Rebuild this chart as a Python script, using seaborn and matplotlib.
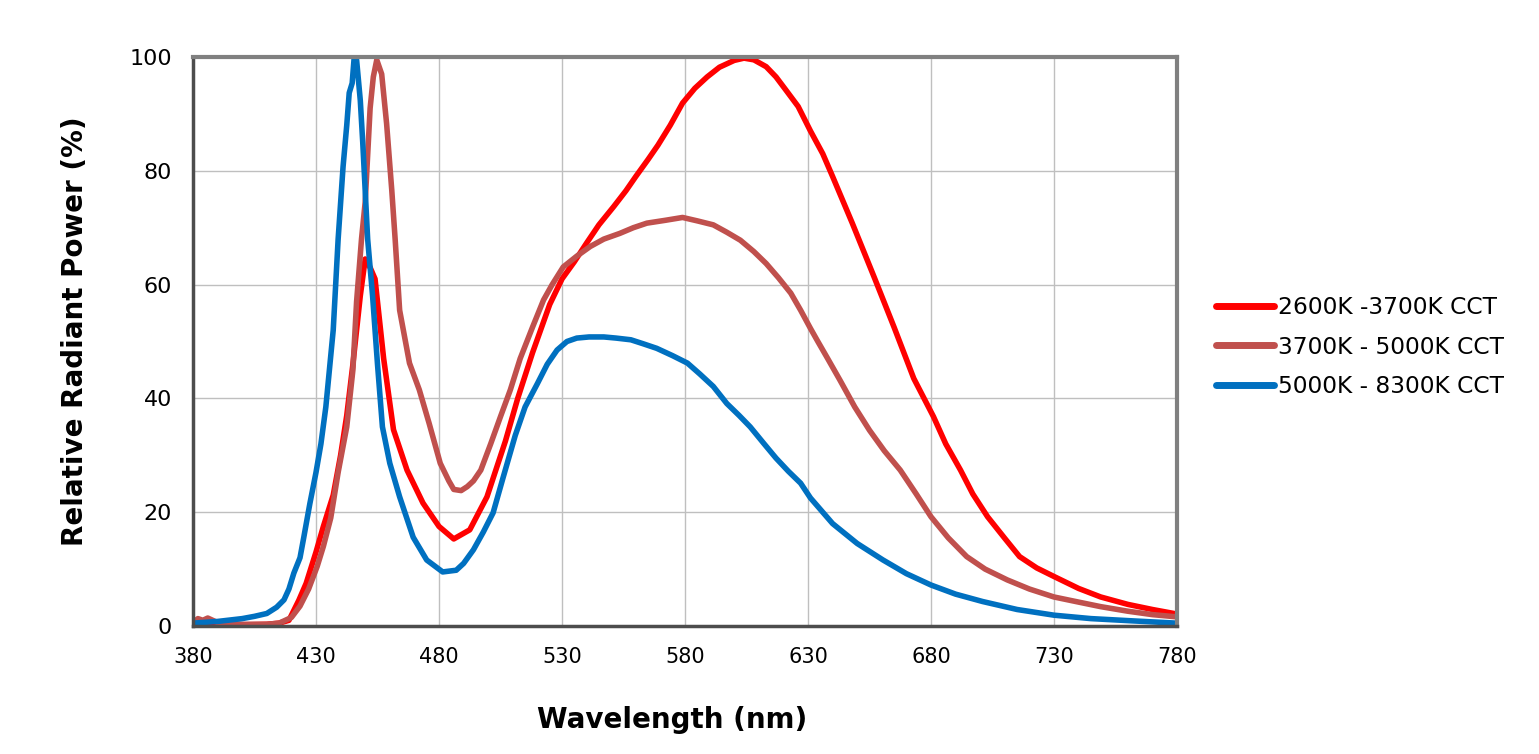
import numpy as np
import pandas as pd
import matplotlib
matplotlib.use("Agg")
import matplotlib.pyplot as plt
import seaborn as sns

# spectra (wavelength in nm, relative power in %)
red_wl = [380, 390, 400, 410, 415, 419, 423, 426, 430, 433, 437, 440, 442.5, 445, 446.5, 448, 450, 452,
          454, 457.5, 461.5, 467, 473.5, 480, 486, 492.5, 499.5, 507, 512, 518, 525, 530, 535, 540, 545,
          551, 556, 560, 565, 569, 574, 579, 584, 589, 594, 600, 604, 608, 613, 617, 621, 626, 631, 636,
          640, 648, 657, 665, 673, 681, 686, 692, 697, 703, 710, 716, 723, 730, 740, 749, 760, 770, 780]
red_val = [0.3, 0.2, 0.2, 0.3, 0.5, 1, 4.5, 7.5, 13, 17.5, 23, 30, 37, 46, 52, 58, 64.5, 63,
           61, 47, 34.5, 27.4, 21.6, 17.5, 15.3, 16.9, 22.7, 32.5, 40, 48, 56.5, 61, 64, 67.3, 70.5,
           73.7, 76.5, 79, 82, 84.5, 88, 91.9, 94.5, 96.5, 98.2, 99.4, 99.8, 99.5, 98.3, 96.5, 94.2, 91.3, 87, 83,
           79, 70.8, 61.2, 52.5, 43.5, 36.8, 32, 27.4, 23.2, 19.2, 15.4, 12.2, 10.2, 8.7, 6.6, 5.1, 3.8, 2.9, 2.1]

brown_wl = [380, 382, 384, 386, 390, 400, 410, 415, 420, 423.5, 427, 430.5, 433, 436, 439, 442.5, 445,
            446.5, 448.5, 450, 452, 453.3, 454.7, 456.7, 458.7, 460.8, 462.2, 464, 468, 472, 476, 480.5,
            484, 486, 489, 491.5, 494, 497, 501, 505, 509, 513, 518, 522.5, 526, 530.5, 536, 541.5, 547,
            553.5, 559, 564.5, 572, 579, 585, 591.5, 597, 602.5, 608, 613, 618, 623, 627, 631, 634, 638,
            643, 649, 655, 661, 667.5, 674, 680, 687, 694.5, 702, 711, 720, 730, 740, 749, 760, 770, 780]
brown_val = [0.6, 1.3, 1.0, 1.4, 0.6, 0.3, 0.3, 0.5, 1.5, 3.5, 6.5, 10.5, 14, 19, 27, 35, 45,
             57, 68, 74.5, 91, 96.5, 99.5, 97, 88.3, 76.6, 67.8, 55.5, 46.2, 41.5, 35.6, 28.6,
             25.5, 24, 23.8, 24.5, 25.5, 27.4, 32, 36.8, 41.5, 47, 52.5, 57.3, 60, 63.1, 65, 66.7, 68,
             69, 70, 70.8, 71.3, 71.8, 71.2, 70.5, 69.2, 67.8, 65.8, 63.7, 61.2, 58.5, 55.5, 52.3, 50, 47,
             43.2, 38.5, 34.4, 30.8, 27.4, 23.2, 19.2, 15.5, 12.2, 10, 8.1, 6.5, 5.1, 4.2, 3.4, 2.6, 2, 1.6]

blue_wl = [380, 390, 400, 405, 410, 414, 417, 419, 421, 423.5, 425, 427.5, 430, 432, 434, 437, 439, 441,
           442.5, 443.5, 444.7, 445.5, 446.5, 448, 449, 451, 453, 455, 457, 460, 464, 469.5, 475, 481.5,
           487, 490, 494, 498, 502, 506, 511, 515, 520, 524, 528, 532, 536, 541, 547, 552, 558, 563,
           568.5, 575, 581, 586, 591.5, 597, 602, 606.5, 612, 617, 622, 627, 631, 640, 650, 660.5, 670,
           680, 690, 701, 715, 730, 745, 762, 780]
blue_val = [0.5, 0.8, 1.3, 1.7, 2.2, 3.3, 4.6, 6.5, 9.3, 12, 15.5, 21.5, 27, 32, 38.5, 52, 68, 80.7,
            88, 93.7, 95.4, 99.8, 99.5, 92.4, 85, 68, 58, 46, 35, 28.6, 22.7, 15.6, 11.6, 9.5,
            9.8, 11, 13.4, 16.5, 19.9, 26, 33.5, 38.5, 42.6, 46, 48.5, 50, 50.6, 50.8, 50.8, 50.6, 50.3, 49.6,
            48.8, 47.5, 46.2, 44.3, 42.1, 39.1, 37, 35, 32.1, 29.5, 27.2, 25.1, 22.5, 18, 14.5, 11.6, 9.2,
            7.2, 5.6, 4.3, 2.9, 1.9, 1.3, 0.9, 0.5]

labels = ["2600K -3700K CCT", "3700K - 5000K CCT", "5000K - 8300K CCT"]
colors = ["#FF0000", "#C0504D", "#0070C0"]
x_ticks = [380, 430, 480, 530, 580, 630, 680, 730, 780]
y_ticks = [0, 20, 40, 60, 80, 100]

sns.set_style("white")
plt.rcParams["font.family"] = ["DejaVu Sans"]
plt.rcParams["text.color"] = "black"
plt.rcParams["axes.labelcolor"] = "black"

fig = plt.figure(figsize=(15.39, 7.54), dpi=100)
ax = fig.add_axes([193 / 1539, 1 - 626 / 754, 984 / 1539, 569 / 754])

series = [(red_wl, red_val), (brown_wl, brown_val), (blue_wl, blue_val)]
for (wl, val), lab, col in zip(series, labels, colors):
    sns.lineplot(x=wl, y=val, ax=ax, color=col, linewidth=4, label=lab,
                 solid_capstyle="round", solid_joinstyle="round", zorder=3)

ax.set_xlim(380, 780)
ax.set_ylim(0, 100)
ax.set_xticks(x_ticks)
ax.set_yticks(y_ticks)
ax.grid(True, color="#BFBFBF", linewidth=1.0, zorder=0)
ax.set_axisbelow(True)
ax.tick_params(axis="both", direction="out", length=6, width=1.2, color="#333333",
               labelcolor="black")
ax.tick_params(axis="x", pad=9, labelsize=15)
ax.tick_params(axis="y", pad=9, labelsize=16)

for side in ["left", "bottom"]:
    ax.spines[side].set_color("#4d4d4d")
    ax.spines[side].set_linewidth(2.5)
for side in ["top", "right"]:
    ax.spines[side].set_color("#808080")
    ax.spines[side].set_linewidth(3)
for sp in ax.spines.values():
    sp.set_visible(True)
    sp.set_zorder(4)

ax.set_xlabel("Wavelength (nm)", fontsize=20, fontweight="bold", color="black")
ax.set_ylabel("Relative Radiant Power (%)", fontsize=20, fontweight="bold", color="black")
ax.xaxis.set_label_coords((672 - 193) / 984, (626 - 720) / 569)
ax.xaxis.label.set_va("center")
ax.yaxis.set_label_coords((75 - 193) / 984, (626 - 331) / 569)
ax.yaxis.label.set_va("center")

ax.legend_.remove()
handles, labs = ax.get_legend_handles_labels()
leg = fig.legend(handles, labs, loc="center left", bbox_to_anchor=(1195 / 1539, 1 - 347 / 754),
                 frameon=False, fontsize=16.8, handlelength=2.5, handletextpad=0.15, labelspacing=0.7)
for h in leg.legend_handles:
    h.set_linewidth(5)
    h.set_solid_capstyle("round")
for t in leg.get_texts():
    t.set_color("black")

fig.savefig("out.png", dpi=100)
